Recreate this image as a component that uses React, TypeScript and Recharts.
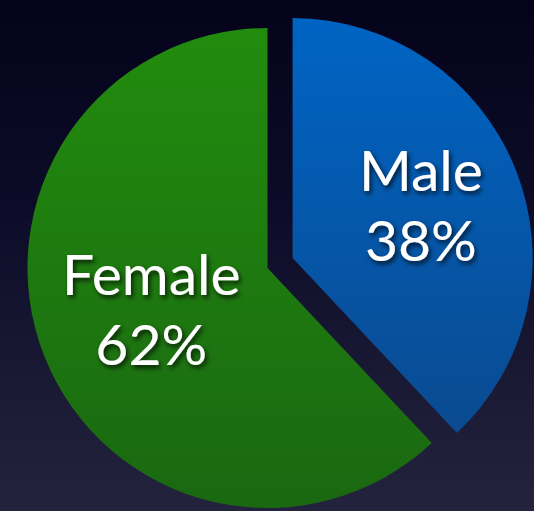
import React from "react";
import { PieChart, Pie, Cell } from "recharts";

const categories = ["Male", "Female"];
const shares = [38, 62];
const labelTexts = ["38%", "62%"];

const data = categories.map((name, i) => ({ name, value: shares[i], pct: labelTexts[i] }));

const RAD = Math.PI / 180;
const W = 534;
const H = 511;
const CX = 267.5;
const CY = 268;
const R = 240;
const EXPLODE = 27;

const makeLabel = (show: string, radius: number, lift: number) => (props: any) => {
  const { cx, cy, midAngle, name, payload } = props;
  if (name !== show) return null;
  const x = cx + radius * Math.cos(-midAngle * RAD);
  const y = cy + radius * Math.sin(-midAngle * RAD) - lift;
  return (
    <text
      x={x}
      y={y}
      textAnchor="middle"
      fill="#ffffff"
      fontFamily="Lato, 'Open Sans', sans-serif"
      fontSize={57}
      filter="url(#txtShadow)"
    >
      <tspan x={x} y={y}>{name}</tspan>
      <tspan x={x} dy={70}>{payload.pct ?? props.pct}</tspan>
    </text>
  );
};

export default function App() {
  const maleMid = 90 - (shares[0] / (shares[0] + shares[1])) * 180;
  const dx = EXPLODE * Math.cos(maleMid * RAD);
  const dy = -EXPLODE * Math.sin(maleMid * RAD);
  return (
    <div
      style={{
        position: "fixed",
        left: 0,
        top: 0,
        width: W,
        height: H,
        background: "linear-gradient(180deg, #04031a 0%, #0d0c28 40%, #24233e 100%)",
      }}
    >
      <PieChart width={W} height={H} margin={{ top: 0, right: 0, bottom: 0, left: 0 }}>
        <defs>
          <linearGradient id="gGreen" x1="0" y1="0" x2="0" y2="1">
            <stop offset="0%" stopColor="#228c0e" />
            <stop offset="100%" stopColor="#1a6811" />
          </linearGradient>
          <linearGradient id="gBlue" x1="0" y1="0" x2="0" y2="1">
            <stop offset="0%" stopColor="#0064c4" />
            <stop offset="100%" stopColor="#0a4a90" />
          </linearGradient>
          <filter id="txtShadow" x="-20%" y="-20%" width="140%" height="150%">
            <feDropShadow dx="2" dy="3" stdDeviation="2.5" floodColor="#000000" floodOpacity="0.75" />
          </filter>
        </defs>
        <Pie
          data={data}
          dataKey="value"
          nameKey="name"
          cx={CX}
          cy={CY}
          outerRadius={R}
          startAngle={90}
          endAngle={-270}
          stroke="none"
          isAnimationActive={false}
          labelLine={false}
          label={makeLabel("Female", 125, 19)}
        >
          <Cell fill="none" stroke="none" />
          <Cell fill="url(#gGreen)" stroke="none" />
        </Pie>
        <Pie
          data={data}
          dataKey="value"
          nameKey="name"
          cx={CX + dx}
          cy={CY + dy}
          outerRadius={R}
          startAngle={90}
          endAngle={-270}
          stroke="none"
          isAnimationActive={false}
          labelLine={false}
          label={makeLabel("Male", 138, 16)}
        >
          <Cell fill="url(#gBlue)" stroke="none" />
          <Cell fill="none" stroke="none" />
        </Pie>
      </PieChart>
    </div>
  );
}
